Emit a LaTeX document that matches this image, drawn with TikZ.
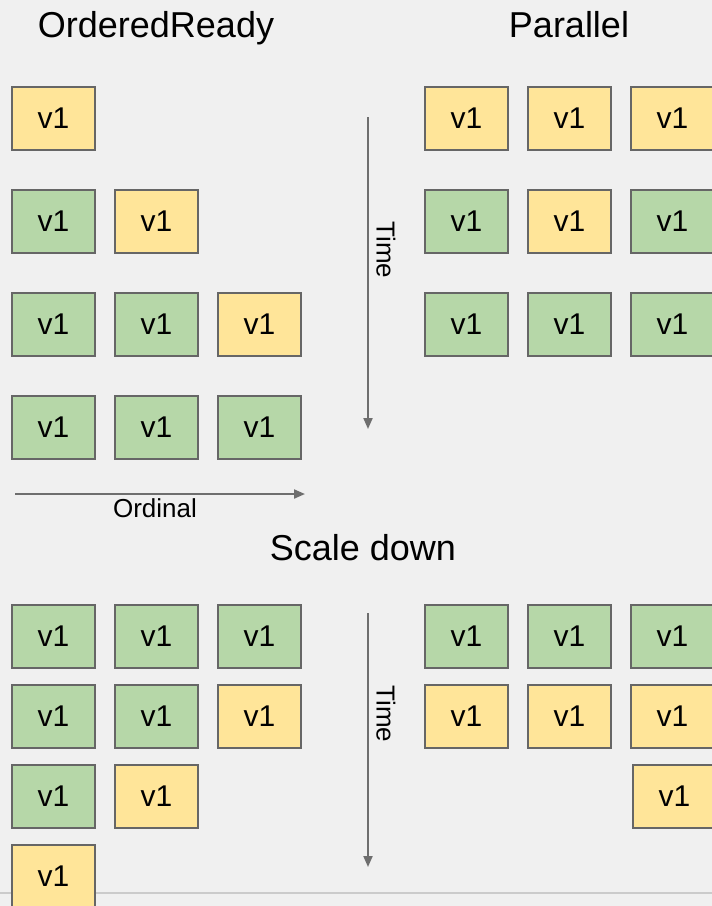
\documentclass[tikz,border=0pt]{standalone}
\usepackage{fontspec}
\setmainfont{Liberation Sans}
\usetikzlibrary{arrows.meta}
\definecolor{bg}{HTML}{F0F0F0}
\definecolor{yel}{HTML}{FFE599}
\definecolor{grn}{HTML}{B6D7A8}
\definecolor{bord}{HTML}{666666}
\definecolor{arr}{HTML}{6E6E6E}
\definecolor{sep}{HTML}{CBCBCB}
\tikzset{
  pod/.style={draw=bord, line width=1.8pt, minimum width=83.2pt, minimum height=63.2pt,
    inner sep=0pt, anchor=north west, font=\fontsize{30}{30}\selectfont},
  ybox/.style={pod, fill=yel},
  gbox/.style={pod, fill=grn},
  title/.style={anchor=base, inner sep=0pt, font=\fontsize{36}{36}\selectfont},
  axlabel/.style={inner sep=0pt, font=\fontsize{26}{26}\selectfont},
  axis/.style={draw=arr, line width=2pt, -{Triangle[length=11pt,width=9pt]}}
}
\begin{document}
\begin{tikzpicture}[x=1pt,y=-1pt]
\fill[bg] (0,0) rectangle (712,906);
\useasboundingbox (0,0) rectangle (712,906);
% separator line
\coordinate (sl) at (0,893);
\coordinate (sr) at (712,893);
\draw[sep, line width=1.5pt] (sl) -- (sr);
% titles
\node[title] (t1) at (156,37) {OrderedReady};
\node[title] (t2) at (569,37) {Parallel};
\node[title] (t3) at (363,560) {Scale down};
% top left (OrderedReady)
\node[ybox] (a11) at (11,86) {v1};
\node[gbox] (a21) at (11,189) {v1};
\node[ybox] (a22) at (114,189) {v1};
\node[gbox] (a31) at (11,292) {v1};
\node[gbox] (a32) at (114,292) {v1};
\node[ybox] (a33) at (217,292) {v1};
\node[gbox] (a41) at (11,395) {v1};
\node[gbox] (a42) at (114,395) {v1};
\node[gbox] (a43) at (217,395) {v1};
% top right (Parallel)
\node[ybox] (b11) at (424,86) {v1};
\node[ybox] (b12) at (527,86) {v1};
\node[ybox] (b13) at (630,86) {v1};
\node[gbox] (b21) at (424,189) {v1};
\node[ybox] (b22) at (527,189) {v1};
\node[gbox] (b23) at (630,189) {v1};
\node[gbox] (b31) at (424,292) {v1};
\node[gbox] (b32) at (527,292) {v1};
\node[gbox] (b33) at (630,292) {v1};
% bottom left
\node[gbox] (c11) at (11,604) {v1};
\node[gbox] (c12) at (114,604) {v1};
\node[gbox] (c13) at (217,604) {v1};
\node[gbox] (c21) at (11,684) {v1};
\node[gbox] (c22) at (114,684) {v1};
\node[ybox] (c23) at (217,684) {v1};
\node[gbox] (c31) at (11,764) {v1};
\node[ybox] (c32) at (114,764) {v1};
\node[ybox] (c41) at (11,844) {v1};
% bottom right
\node[gbox] (d11) at (424,604) {v1};
\node[gbox] (d12) at (527,604) {v1};
\node[gbox] (d13) at (630,604) {v1};
\node[ybox] (d21) at (424,684) {v1};
\node[ybox] (d22) at (527,684) {v1};
\node[ybox] (d23) at (630,684) {v1};
\node[ybox] (d33) at (632,764) {v1};
% axes
\coordinate (ta1) at (368,117);
\coordinate (tb1) at (368,429);
\draw[axis] (ta1) -- (tb1);
\node[axlabel, rotate=-90] (time1) at (386,250) {Time};
\coordinate (ta2) at (368,613);
\coordinate (tb2) at (368,867);
\draw[axis] (ta2) -- (tb2);
\node[axlabel, rotate=-90] (time2) at (386,714) {Time};
\coordinate (oa) at (15,494);
\coordinate (ob) at (305,494);
\draw[axis] (oa) -- (ob);
\node[axlabel] (ord) at (155,508.5) {Ordinal};
\end{tikzpicture}
\end{document}
